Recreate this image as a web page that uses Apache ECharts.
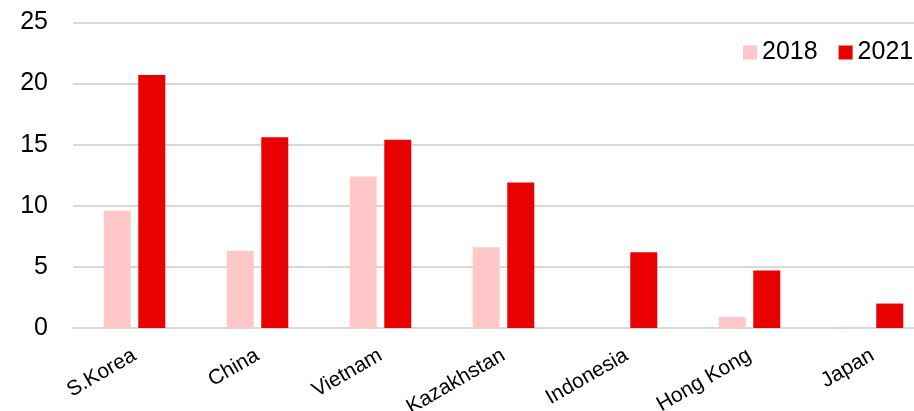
<!DOCTYPE html>
<html>
<head>
<meta charset="utf-8">
<script src="https://cdn.jsdelivr.net/npm/echarts@6/dist/echarts.min.js"></script>
<style>
html,body{margin:0;padding:0;background:#fff;}
#wrap{position:relative;width:914px;height:411px;overflow:hidden;}
#chart{position:absolute;left:0;top:0;width:934px;height:411px;}
</style>
</head>
<body>
<div id="wrap"><div id="chart"></div></div>
<script>
var categories = ['S.Korea', 'China', 'Vietnam', 'Kazakhstan', 'Indonesia', 'Hong Kong', 'Japan'];
var values2018 = [9.6, 6.3, 12.4, 6.6, 0, 0.9, 0.1];
var values2021 = [20.7, 15.6, 15.4, 11.9, 6.2, 4.7, 2.0];
var seriesNames = ['2018', '2021'];
var yTicks = [0, 5, 10, 15, 20, 25];

var FONT = 'Liberation Sans, Arial, sans-serif';
var chart = echarts.init(document.getElementById('chart'), null, {renderer: 'canvas'});
chart.setOption({
  animation: false,
  backgroundColor: '#ffffff',
  legend: {
    data: seriesNames,
    orient: 'horizontal',
    left: 743,
    top: 40,
    width: 250,
    padding: 0,
    itemWidth: 14,
    itemHeight: 14,
    itemGap: 21,
    icon: 'rect',
    textStyle: {fontFamily: FONT, fontSize: 25, color: '#000'}
  },
  grid: {left: 73, top: 22.5, width: 861, height: 305.5, containLabel: false, outerBoundsMode: 'none'},
  xAxis: {
    type: 'category',
    data: categories,
    axisTick: {show: false},
    axisLine: {show: true, lineStyle: {color: '#D9D9D9', width: 2}},
    axisLabel: {
      rotate: 30,
      interval: 0,
      margin: 26,
      fontFamily: FONT,
      fontSize: 21,
      color: '#000'
    }
  },
  yAxis: {
    type: 'value',
    min: yTicks[0],
    max: yTicks[yTicks.length - 1],
    interval: 5,
    axisLine: {show: false},
    axisTick: {show: false},
    splitLine: {lineStyle: {color: '#D9D9D9', width: 2}},
    axisLabel: {fontFamily: FONT, fontSize: 25, color: '#000', margin: 25}
  },
  series: [
    {
      name: seriesNames[0],
      type: 'bar',
      data: values2018,
      barWidth: 27,
      barGap: '28%',
      itemStyle: {color: '#FFC7C7'}
    },
    {
      name: seriesNames[1],
      type: 'bar',
      data: values2021,
      barWidth: 27,
      barGap: '28%',
      itemStyle: {color: '#E90000'}
    }
  ]
});
</script>
</body>
</html>
